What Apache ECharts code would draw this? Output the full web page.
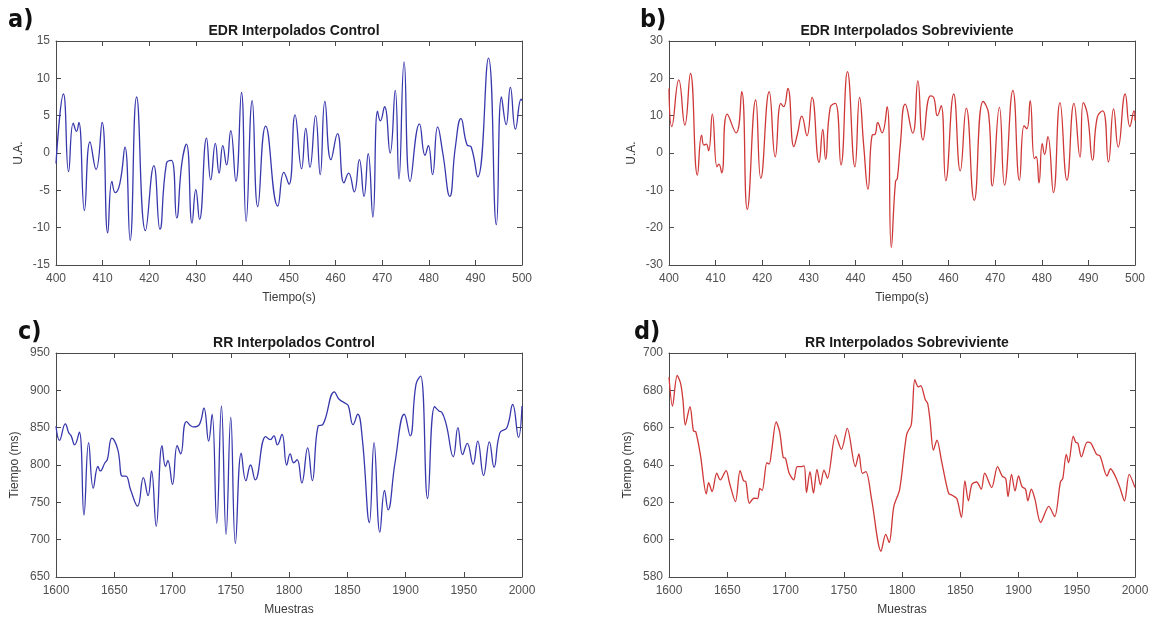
<!DOCTYPE html>
<html>
<head>
<meta charset="utf-8">
<script src="https://cdn.jsdelivr.net/npm/echarts@6/dist/echarts.min.js"></script>
<style>
html,body{margin:0;padding:0;background:#fff;}
#c{width:1153px;height:621px;}
</style>
</head>
<body>
<div id="c"></div>
<script>
// ---- Data ----
const edrCtrlT = [400,401.6,402.7,403.7,404.4,404.9,406.1,407.3,408.6,409.9,411.1,412.0,412.7,413.7,414.8,415.9,417.3,419.2,421.0,422.3,423.7,424.8,425.9,427.0,428.0,429.2,430.0,430.8,432.3,433.2,434.2,435.0,435.8,436.6,437.5,438.6,439.8,440.8,442.1,443.3,445.0,447.6,448.9,450.0,451.3,452.7,453.6,454.5,455.7,456.7,457.7,459.0,460.4,461.8,462.8,464.0,465.1,466.1,467.0,468.0,469.0,469.6,470.5,471.7,472.8,473.6,474.7,476.0,478.0,479.2,479.9,480.8,481.9,483.0,484.5,485.7,486.9,488.2,489.1,490.5,492.8,494.5,495.6,496.6,497.5,498.6,499.8,500];
const edrCtrlV = [-1.4,7.9,-2.5,4,2.9,4.1,-7.7,1.5,-2.2,4.1,-10.7,-3.8,-5.3,-4.1,0.8,-11.7,7.5,-10.4,-1.7,-10.2,-1.4,-1.0,-8.7,-1.4,1.2,-9.4,-4.9,-8.9,2.0,-3.6,1.3,-2.7,1.0,-1.6,3.0,-3.8,8.1,-9.2,7.0,-7.2,3.6,-7.1,-2.6,-4.2,5.1,-2.1,3.3,-1.9,5.0,-2.9,6.9,-0.9,2.6,-4.0,-2.7,-5.2,-0.9,-5.8,-0.1,-8.6,5.6,4.3,6.2,0.0,8.4,-3.5,12.2,-3.8,3.9,-0.3,1.0,-2.9,3.5,0.0,-5.8,0.8,4.6,1.1,0.8,-3.2,12.7,-9.6,7.5,3.8,8.8,3.2,7.2,7.0];

const edrSobT = [400,400.6,402.1,403.4,404.6,406.1,407.0,407.5,408.0,408.5,409.3,410.3,410.7,411.3,412.5,414.4,415.6,416.8,418.6,419.7,421.5,422.8,424.0,424.6,425.5,426.8,427.6,428.5,429.6,430.7,432.2,433.0,433.6,434.6,435.7,436.9,438.3,439.9,440.9,441.8,442.7,443.6,444.2,444.8,445.7,446.8,447.7,448.6,449.0,449.6,450.7,452.3,453.4,454.5,456.1,456.8,457.6,458.4,459.4,461.1,462.5,463.8,465.5,467.4,468.6,469.4,470.9,472.0,473.8,475.2,476.2,476.8,477.5,478.4,478.8,479.4,480.1,480.6,481.3,482.5,483.9,485.4,486.9,488.2,488.9,489.8,490.9,491.9,493.1,494.3,495.4,496.4,497.9,498.9,499.8,500];
const edrSobV = [17.3,7.1,19.6,7.5,21.3,-5.9,4.8,2.1,2.4,0.6,10.4,-3.7,-3.0,-5.3,10.4,5.4,16.4,-15.1,14.2,-6.8,16.4,-1.0,13.3,12.4,17.3,1.7,5.3,9.9,4.6,14.9,-2.5,6.3,-1.7,12.2,13.3,-3.2,21.8,-3.7,14.9,1.7,-9.7,4.8,5.0,8.1,5.4,12.4,-25.3,-7.7,-6.8,1.6,13.1,5.3,19.3,3.5,15.3,14.9,10.0,12.7,-7.4,15.8,-4.8,12.0,-12.7,13.8,10.4,-8.8,12.2,-8.6,16.8,-7.3,7.3,6.5,14.0,-1.5,-1.0,-8.0,2.5,-0.4,4.4,-10.6,13.5,-7.3,13.3,-1.1,13.5,10.3,-1.9,9.6,11.3,-2.4,11.8,1.6,15.8,7.1,11.3,8.7];

const rrCtrlS = [1600,1603,1608,1611,1613,1616,1620,1624,1628,1632,1636,1638,1642,1644,1648,1653,1657,1660,1664,1670,1675,1679,1682,1686,1691,1694,1696,1700,1704,1707,1712,1718,1723,1727,1731,1734,1738,1742,1746,1750,1754,1759,1763,1767,1771,1780,1784,1787,1790,1794,1798,1801,1804,1807,1811,1816,1820,1825,1829,1839,1843,1849,1851,1855,1859,1863,1869,1873,1878,1882,1885,1891,1899,1904,1909,1913,1919,1925,1929,1931,1935,1941,1945,1949,1953,1958,1962,1967,1972,1976,1981,1987,1992,1997,2000];
const rrCtrlV = [852,833,855,843,839,827,844,733,830,769,798,792,803,807,836,821,785,785,767,745,783,759,792,718,826,798,806,774,826,815,858,851,854,876,832,868,722,879,707,864,695,816,779,800,780,838,834,839,827,841,800,815,803,807,776,823,779,852,854,898,888,882,879,854,868,834,723,830,710,766,740,803,868,839,908,919,755,878,872,871,854,811,850,814,829,801,832,786,831,797,843,850,881,837,879];

const rrSobS = [1600,1603,1607,1610,1612,1614,1618,1621,1623,1627,1632,1634,1637,1641,1644,1649,1652,1657,1661,1664,1666,1669,1673,1676,1678,1680,1684,1686,1688,1692,1695,1698,1700,1703,1707,1710,1713,1716,1718,1721,1724,1727,1730,1733,1736,1743,1748,1753,1760,1763,1766,1769,1774,1782,1786,1789,1793,1798,1804,1808,1811,1814,1816,1820,1822,1824,1827,1830,1834,1840,1843,1847,1851,1854,1857,1860,1864,1868,1871,1877,1882,1886,1889,1891,1894,1897,1900,1903,1906,1908,1911,1914,1919,1926,1931,1936,1938,1941,1943,1947,1949,1951,1954,1959,1962,1967,1970,1976,1979,1983,1987,1991,1995,2000];
const rrSobV = [687,671.5,688,683.6,674.7,661.4,671.2,658.3,657.8,645.3,624.5,630.6,625.8,635.6,632,637,630.2,620.4,637,631.6,631,619.5,622.2,622,627.5,626.3,641.2,640.5,647.1,663.1,657.8,644.1,643.6,635.9,632,639.1,639.1,639.5,625.2,636.4,624.9,637.7,629.3,637.3,632.9,656,648.4,659.6,639.1,645.9,635.5,636.4,621.3,593.8,602.8,598.5,617.8,627,656.4,661.7,685.7,681.8,682.5,675,673,664.4,648,653.3,642,624.9,623.8,622,611.9,631.5,620.8,629.7,630.9,627,635.6,627.9,639.1,634.1,632.7,623.1,635,626.1,634.1,628.4,627,620.8,627,622,609.2,617.8,612.4,631,632.7,645.7,641.2,655.5,652.3,651.6,644.4,652.3,651.9,645.7,644.8,634.1,638,634.1,627.9,620.8,635,627.9];

const titles = ['EDR Interpolados Control','EDR Interpolados Sobreviviente','RR Interpolados Control','RR Interpolados Sobreviviente'];
const panelLabels = ['a)','b)','c)','d)'];
const xNames = ['Tiempo(s)','Tiempo(s)','Muestras','Muestras'];
const yNames = ['U.A.','U.A.','Tiempo (ms)','Tiempo (ms)'];
const xRanges = [[400,500,10],[400,500,10],[1600,2000,50],[1600,2000,50]];
const yRanges = [[-15,15,5],[-30,30,10],[650,950,50],[580,700,20]];

// ---- Layout & style ----
const grids = [
  {left:56, top:41, width:466, height:224},
  {left:669, top:41, width:466, height:224},
  {left:56, top:353, width:466, height:224},
  {left:669, top:353, width:466, height:224}
];
const colors = ['#3838ad','#cf3838','#3838ad','#cf3838'];
const smoothVals = [0.5,0.5,0.45,0.3];
const series = [[edrCtrlT,edrCtrlV],[edrSobT,edrSobV],[rrCtrlS,rrCtrlV],[rrSobS,rrSobV]];
const yNameGaps = [31,31,35,35];

const axisCol = '#4a4a4a';
const labelCol = '#505050';
const font = 'Liberation Sans, Arial, sans-serif';
const plain = v => String(v);

const xAxes = [], yAxes = [], seriesOpt = [], titleOpt = [], graphic = [];
grids.forEach((g, i) => {
  const [xmin,xmax,xint] = xRanges[i];
  const [ymin,ymax,yint] = yRanges[i];
  xAxes.push({
    type:'value', gridIndex:i, position:'bottom', min:xmin, max:xmax, interval:xint,
    axisLine:{show:true, onZero:false, lineStyle:{color:axisCol, width:1}},
    axisTick:{show:true, inside:true, length:5, lineStyle:{color:axisCol}},
    axisLabel:{color:labelCol, fontSize:12, fontFamily:font, margin:8, formatter:plain},
    splitLine:{show:false},
    name:xNames[i], nameLocation:'middle', nameGap:27,
    nameTextStyle:{color:'#3a3a3a', fontSize:12, fontFamily:font}
  });
  xAxes.push({
    type:'value', gridIndex:i, position:'top', min:xmin, max:xmax, interval:xint,
    axisLine:{show:true, onZero:false, lineStyle:{color:axisCol, width:1}},
    axisTick:{show:true, inside:true, length:5, lineStyle:{color:axisCol}},
    axisLabel:{show:false}, splitLine:{show:false}
  });
  yAxes.push({
    type:'value', gridIndex:i, position:'left', min:ymin, max:ymax, interval:yint,
    axisLine:{show:true, onZero:false, lineStyle:{color:axisCol, width:1}},
    axisTick:{show:true, inside:true, length:5, lineStyle:{color:axisCol}},
    axisLabel:{color:labelCol, fontSize:12, fontFamily:font, margin:6, formatter:plain},
    splitLine:{show:false},
    name:yNames[i], nameLocation:'middle', nameGap:yNameGaps[i], nameRotate:90,
    nameTextStyle:{color:'#3a3a3a', fontSize:12, fontFamily:font}
  });
  yAxes.push({
    type:'value', gridIndex:i, position:'right', min:ymin, max:ymax, interval:yint,
    axisLine:{show:true, onZero:false, lineStyle:{color:axisCol, width:1}},
    axisTick:{show:true, inside:true, length:5, lineStyle:{color:axisCol}},
    axisLabel:{show:false}, splitLine:{show:false}
  });
  const [xs, vs] = series[i];
  seriesOpt.push({
    type:'line', xAxisIndex:2*i, yAxisIndex:2*i,
    data: xs.map((x,k)=>[x, vs[k]]),
    showSymbol:false, smooth:smoothVals[i],
    lineStyle:{color:colors[i], width:1.3}, clip:true
  });
  titleOpt.push({
    text:titles[i], left:g.left + g.width/2, top:g.top - 22, textAlign:'center',
    textStyle:{color:'#1a1a1a', fontSize:14, fontWeight:'bold', fontFamily:font}
  });
});
const labelPos = [[8,8],[640,8],[18,320],[634,320]];
panelLabels.forEach((t,i)=>{
  graphic.push({type:'text', left:labelPos[i][0], top:labelPos[i][1],
    style:{text:t, fill:'#111', font:'bold 25px "Liberation Sans Narrow", "DejaVu Sans Condensed", sans-serif'}});
});

const chart = echarts.init(document.getElementById('c'), null, {renderer:'canvas'});
chart.setOption({
  animation:false,
  backgroundColor:'#fff',
  title:titleOpt,
  grid:grids.map(g=>Object.assign({containLabel:false}, g)),
  xAxis:xAxes, yAxis:yAxes, series:seriesOpt, graphic:graphic
});
</script>
</body>
</html>
